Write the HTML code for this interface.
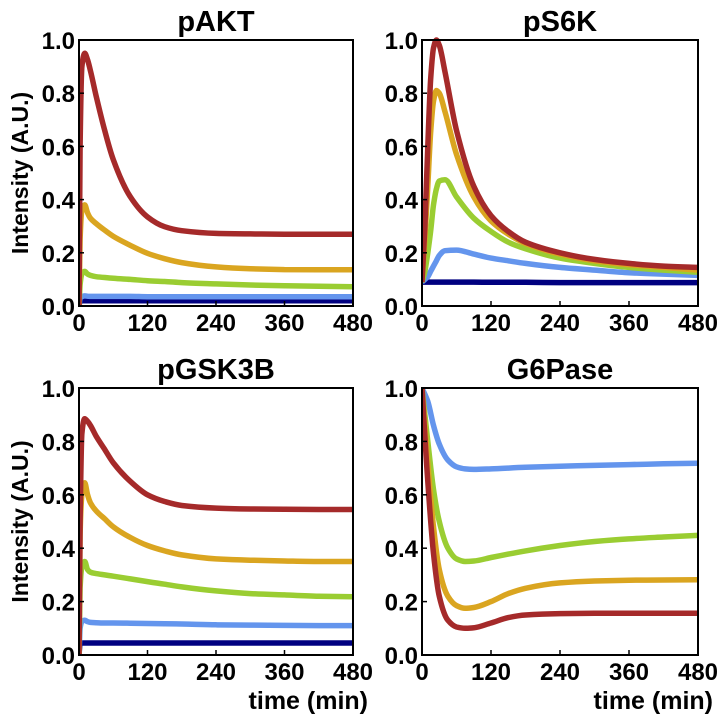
<!DOCTYPE html>
<html><head><meta charset="utf-8"><style>
body{margin:0;background:#fff}
svg{display:block;font-family:"Liberation Sans",Arial,sans-serif;font-weight:bold}
</style></head><body>
<svg id="c" width="728" height="722"></svg>
<script>
const tickVals=[0,120,240,360,480];
const yTicks=[0.0,0.2,0.4,0.6,0.8,1.0];
const colors=["#000080","#6495ed","#9acd32","#daa520","#a52a2a"];
const titles=["pAKT","pS6K","pGSK3B","G6Pase"];
// pAKT
const akt_t=[0,2,5,10,15,20,30,45,60,90,120,150,180,240,300,360,420,480];
const akt_navy=[0,0.02,0.02,0.02,0.02,0.02,0.02,0.02,0.02,0.02,0.02,0.02,0.02,0.02,0.02,0.02,0.02,0.02];
const akt_blue=[0,0.03,0.035,0.038,0.037,0.036,0.036,0.036,0.036,0.036,0.035,0.035,0.035,0.035,0.035,0.035,0.035,0.035];
const akt_green=[0,0.08,0.12,0.13,0.12,0.115,0.11,0.107,0.104,0.1,0.095,0.092,0.088,0.083,0.079,0.076,0.074,0.072];
const akt_orange=[0,0.25,0.36,0.38,0.35,0.33,0.31,0.285,0.262,0.228,0.198,0.178,0.163,0.147,0.14,0.137,0.136,0.136];
const akt_red=[0,0.6,0.9,0.95,0.925,0.885,0.79,0.66,0.55,0.41,0.335,0.298,0.283,0.273,0.271,0.27,0.27,0.27];
// pS6K
const s6k_t=[0,5,10,15,20,25,30,40,60,90,120,150,180,240,300,360,420,480];
const s6k_navy=[0.09,0.09,0.09,0.09,0.09,0.09,0.09,0.09,0.09,0.09,0.089,0.089,0.089,0.088,0.088,0.088,0.088,0.088];
const s6k_blue=[0.09,0.1,0.11,0.13,0.15,0.17,0.19,0.208,0.21,0.195,0.18,0.17,0.16,0.145,0.135,0.125,0.12,0.115];
const s6k_green=[0.09,0.13,0.2,0.28,0.38,0.44,0.47,0.475,0.41,0.33,0.28,0.24,0.215,0.18,0.16,0.145,0.135,0.127];
const s6k_orange=[0.09,0.25,0.45,0.65,0.77,0.81,0.8,0.73,0.57,0.41,0.32,0.27,0.235,0.195,0.17,0.155,0.145,0.135];
const s6k_red=[0.09,0.3,0.6,0.85,0.97,1.0,0.98,0.88,0.66,0.45,0.34,0.28,0.24,0.2,0.175,0.16,0.15,0.145];
// pGSK3B
const gsk_t=[0,2,5,10,15,20,30,45,60,90,120,150,180,240,300,360,420,480];
const gsk_navy=[0,0.045,0.045,0.045,0.045,0.045,0.045,0.045,0.045,0.045,0.045,0.045,0.045,0.045,0.045,0.045,0.045,0.045];
const gsk_blue=[0,0.1,0.125,0.13,0.125,0.122,0.121,0.12,0.12,0.119,0.118,0.117,0.116,0.113,0.112,0.111,0.11,0.11];
const gsk_green=[0,0.25,0.33,0.35,0.32,0.31,0.305,0.3,0.295,0.285,0.275,0.265,0.255,0.24,0.23,0.225,0.22,0.218];
const gsk_orange=[0,0.45,0.6,0.645,0.6,0.57,0.54,0.51,0.48,0.44,0.41,0.39,0.375,0.36,0.355,0.352,0.35,0.35];
const gsk_red=[0,0.5,0.83,0.885,0.875,0.86,0.82,0.77,0.72,0.65,0.6,0.575,0.56,0.55,0.547,0.546,0.545,0.545];
// G6Pase
const g6p_t=[0,10,20,30,45,60,75,90,120,150,180,240,300,360,420,480];
const g6p_blue=[1.0,0.95,0.86,0.79,0.73,0.705,0.697,0.695,0.697,0.7,0.703,0.707,0.71,0.713,0.716,0.718];
const g6p_green=[1.0,0.8,0.62,0.5,0.4,0.36,0.35,0.352,0.365,0.378,0.39,0.41,0.425,0.435,0.442,0.448];
const g6p_orange=[1.0,0.72,0.48,0.32,0.22,0.185,0.175,0.178,0.2,0.23,0.25,0.27,0.277,0.28,0.281,0.282];
const g6p_red=[1.0,0.65,0.38,0.22,0.13,0.105,0.1,0.102,0.12,0.14,0.15,0.155,0.156,0.156,0.156,0.156];

const panels=[
 {x0:79,x1:353,y0:40,y1:306,t:akt_t,s:[akt_navy,akt_blue,akt_green,akt_orange,akt_red],ylab:true,xlab:false},
 {x0:422,x1:698,y0:40,y1:306,t:s6k_t,s:[s6k_navy,s6k_blue,s6k_green,s6k_orange,s6k_red],ylab:false,xlab:false},
 {x0:79,x1:353,y0:388,y1:655,t:gsk_t,s:[gsk_navy,gsk_blue,gsk_green,gsk_orange,gsk_red],ylab:true,xlab:true},
 {x0:422,x1:698,y0:388,y1:655,t:g6p_t,s:[null,g6p_blue,g6p_green,g6p_orange,g6p_red],ylab:false,xlab:true}
];
const NS="http://www.w3.org/2000/svg";
const svg=document.getElementById('c');
function mk(tag,attrs,parent){const e=document.createElementNS(NS,tag);for(const k in attrs)e.setAttribute(k,attrs[k]);(parent||svg).appendChild(e);return e;}
function smooth(pts){
 const n=pts.length;const dx=[],m=[],tg=[];
 for(let i=0;i<n-1;i++){dx.push(pts[i+1][0]-pts[i][0]);m.push((pts[i+1][1]-pts[i][1])/dx[i]);}
 tg[0]=m[0];tg[n-1]=m[n-2];
 for(let i=1;i<n-1;i++){tg[i]=0;
  const w1=2*dx[i]+dx[i-1],w2=dx[i]+2*dx[i-1];if(m[i-1]*m[i]>0)tg[i]=(w1+w2)/(w1/m[i-1]+w2/m[i]);}
 let d='M'+pts[0][0].toFixed(1)+','+pts[0][1].toFixed(1);
 for(let i=0;i<n-1;i++){const h=dx[i]/3;
  d+='C'+(pts[i][0]+h).toFixed(1)+','+(pts[i][1]+tg[i]*h).toFixed(1)+' '+(pts[i+1][0]-h).toFixed(1)+','+(pts[i+1][1]-tg[i+1]*h).toFixed(1)+' '+pts[i+1][0].toFixed(1)+','+pts[i+1][1].toFixed(1);}
 return d;
}
const names=["series-navy","series-blue","series-green","series-orange","series-red"];
panels.forEach((p,i)=>{
 const g=mk('g',{});
 
 
 const sx=v=>p.x0+(v/480)*(p.x1-p.x0);
 const sy=v=>p.y1-v*(p.y1-p.y0);
 const cp=mk('clipPath',{id:'cp'+i},g);mk('rect',{x:p.x0,y:p.y0-3,width:p.x1-p.x0,height:p.y1-p.y0+3},cp);
 p.s.forEach((arr,k)=>{
  if(!arr)return;
  const d=smooth(arr.map((v,j)=>[sx(p.t[j]),sy(v)]));
  const path=mk('path',{d:d,fill:'none',stroke:colors[k],'stroke-width':5.5,'stroke-linejoin':'round','clip-path':'url(#cp'+i+')'},g);
  
  
 });
 const fr=mk('rect',{x:p.x0,y:p.y0,width:p.x1-p.x0,height:p.y1-p.y0,fill:'none',stroke:'#000','stroke-width':2},g);
 
 
 tickVals.forEach(v=>{
  mk('line',{x1:sx(v),x2:sx(v),y1:p.y1,y2:p.y1-5,stroke:'#000','stroke-width':1.5},g);
  const t=mk('text',{x:sx(v),y:p.y1+25,'text-anchor':'middle','font-size':24},g);t.textContent=v;
  
  
 });
 yTicks.forEach(v=>{
  mk('line',{x1:p.x0,x2:p.x0+5,y1:sy(v),y2:sy(v),stroke:'#000','stroke-width':1.5},g);
  const t=mk('text',{x:p.x0-4,y:sy(v)+9,'text-anchor':'end','font-size':24},g);t.textContent=v.toFixed(1);
  
  
 });
 const tt=mk('text',{x:(p.x0+p.x1)/2,y:p.y0-9,'text-anchor':'middle','font-size':29},g);tt.textContent=titles[i];
 
 
 if(p.ylab){
  const yl=mk('text',{x:0,y:0,'text-anchor':'middle','font-size':23,transform:'translate(28,'+((p.y0+p.y1)/2)+') rotate(-90)'},g);yl.textContent='Intensity (A.U.)';
  
  
 }
 if(p.xlab){
  const xl=mk('text',{x:p.x1+15,y:709,'text-anchor':'end','font-size':25},g);xl.textContent='time (min)';
  
  
 }
});
</script>
</body></html>
